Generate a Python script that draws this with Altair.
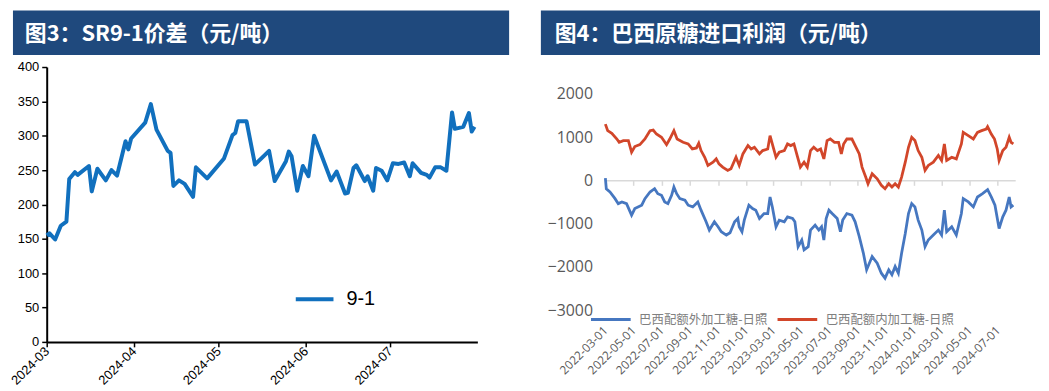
import altair as alt
import pandas as pd

# ---------------- left panel: SR9-1 spread ----------------
left_title = "图3：SR9-1价差（元/吨）"
spread_name = "9-1"
spread_dates = [
    "2024-03-01", "2024-03-02", "2024-03-04", "2024-03-06", "2024-03-08", "2024-03-09",
    "2024-03-11", "2024-03-12", "2024-03-16", "2024-03-17", "2024-03-19", "2024-03-22",
    "2024-03-24", "2024-03-26", "2024-03-29", "2024-03-30", "2024-03-31", "2024-04-05",
    "2024-04-07", "2024-04-09", "2024-04-13", "2024-04-14", "2024-04-15", "2024-04-17",
    "2024-04-19", "2024-04-22", "2024-04-23", "2024-04-27", "2024-05-03", "2024-05-06",
    "2024-05-07", "2024-05-08", "2024-05-11", "2024-05-14", "2024-05-19", "2024-05-21",
    "2024-05-25", "2024-05-26", "2024-05-27", "2024-05-29", "2024-05-31", "2024-06-02",
    "2024-06-04", "2024-06-10", "2024-06-12", "2024-06-15", "2024-06-16", "2024-06-18",
    "2024-06-19", "2024-06-22", "2024-06-23", "2024-06-25", "2024-06-26", "2024-06-28",
    "2024-06-30", "2024-07-02", "2024-07-04", "2024-07-06", "2024-07-08", "2024-07-09",
    "2024-07-12", "2024-07-14", "2024-07-15", "2024-07-17", "2024-07-19", "2024-07-21",
    "2024-07-23", "2024-07-24", "2024-07-27", "2024-07-29", "2024-07-30", "2024-07-31",
]
spread_values = [
    155, 158, 149, 169, 175, 237, 247, 243, 256, 219, 252, 235,
    250, 242, 292, 280, 296, 319, 346, 309, 278, 275, 227, 235,
    230, 211, 254, 238, 267, 301, 304, 321, 321, 258, 278, 234,
    263, 277, 270, 220, 256, 241, 300, 235, 248, 216, 217, 253,
    257, 234, 241, 220, 253, 249, 235, 260, 259, 261, 241, 260,
    246, 243, 239, 254, 254, 249, 334, 310, 313, 333, 306, 313,
]
left_tick_dates = ["2024-03-01", "2024-04-01", "2024-05-01", "2024-06-01", "2024-07-01"]
left_x_domain = ["2024-03-01", "2024-08-01"]
left_y_domain = [0, 400]
left_y_ticks = [0, 50, 100, 150, 200, 250, 300, 350, 400]

# ---------------- right panel: Brazil raw sugar import profit ----------------
right_title = "图4：巴西原糖进口利润（元/吨）"
right_series = ["巴西配额外加工糖-日照", "巴西配额内加工糖-日照"]
out_quota_dates = [
    "2022-03-01", "2022-03-03", "2022-03-11", "2022-03-22", "2022-03-29", "2022-04-06",
    "2022-04-16", "2022-04-27", "2022-05-04", "2022-05-19", "2022-05-26", "2022-06-06",
    "2022-06-16", "2022-06-23", "2022-07-01", "2022-07-08", "2022-07-15", "2022-07-23",
    "2022-07-28", "2022-08-03", "2022-08-10", "2022-08-21", "2022-08-28", "2022-09-07",
    "2022-09-18", "2022-09-25", "2022-10-06", "2022-10-13", "2022-10-24", "2022-11-01",
    "2022-11-08", "2022-11-19", "2022-11-27", "2022-12-07", "2022-12-14", "2022-12-17",
    "2022-12-23", "2022-12-28", "2023-01-07", "2023-01-15", "2023-01-22", "2023-01-30",
    "2023-02-09", "2023-02-17", "2023-02-22", "2023-02-27", "2023-03-07", "2023-03-14",
    "2023-03-25", "2023-04-01", "2023-04-12", "2023-04-17", "2023-04-24", "2023-05-02",
    "2023-05-07", "2023-05-16", "2023-05-21", "2023-05-31", "2023-06-08", "2023-06-14",
    "2023-06-19", "2023-06-24", "2023-06-30", "2023-07-07", "2023-07-18", "2023-07-25",
    "2023-07-30", "2023-08-08", "2023-08-19", "2023-08-26", "2023-09-04", "2023-09-13",
    "2023-09-20", "2023-10-02", "2023-10-13", "2023-10-22", "2023-10-30", "2023-11-07",
    "2023-11-14", "2023-11-21", "2023-11-28", "2023-12-05", "2023-12-13", "2023-12-20",
    "2023-12-27", "2024-01-03", "2024-01-10", "2024-01-18", "2024-01-25", "2024-02-01",
    "2024-02-12", "2024-02-23", "2024-03-01", "2024-03-07", "2024-03-12", "2024-03-23",
    "2024-04-02", "2024-04-13", "2024-04-17", "2024-04-28", "2024-05-09", "2024-05-18",
    "2024-05-29", "2024-06-09", "2024-06-17", "2024-06-25", "2024-07-04", "2024-07-12",
    "2024-07-19", "2024-07-26", "2024-07-30", "2024-08-04",
]
out_quota_values = [
    50, -193, -269, -423, -538, -499,
    -538, -804, -653, -574, -423, -269,
    -193, -308, -345, -499, -538, -345,
    -154, -308, -423, -460, -574, -614,
    -499, -689, -958, -1149, -958, -1073,
    -1188, -1264, -1211, -958, -882, -1073,
    -1188, -919, -574, -653, -689, -882,
    -767, -767, -384, -614, -1073, -919,
    -958, -843, -882, -958, -1533, -1379,
    -1608, -1533, -1149, -1034, -1149, -1073,
    -1379, -882, -689, -767, -882, -1188,
    -919, -767, -804, -958, -1303, -1687,
    -2068, -1762, -1916, -2146, -2261, -2068,
    -2183, -1992, -2146, -1687, -1227, -767,
    -538, -614, -919, -1149, -1533, -1379,
    -1264, -1149, -1264, -689, -1188, -1073,
    -1264, -767, -423, -499, -614, -384,
    -308, -216, -384, -574, -1112, -843,
    -689, -384, -614, -574,
]
in_quota_dates = [
    "2022-03-01", "2022-03-06", "2022-03-15", "2022-03-26", "2022-03-31", "2022-04-09",
    "2022-04-20", "2022-04-27", "2022-05-04", "2022-05-15", "2022-05-26", "2022-06-06",
    "2022-06-13", "2022-06-20", "2022-07-01", "2022-07-12", "2022-07-19", "2022-07-28",
    "2022-08-04", "2022-08-17", "2022-08-28", "2022-09-06", "2022-09-15", "2022-09-20",
    "2022-09-25", "2022-10-03", "2022-10-10", "2022-10-21", "2022-10-28", "2022-11-03",
    "2022-11-11", "2022-11-22", "2022-11-29", "2022-12-10", "2022-12-17", "2022-12-25",
    "2023-01-05", "2023-01-12", "2023-01-19", "2023-01-30", "2023-02-06", "2023-02-17",
    "2023-02-22", "2023-03-01", "2023-03-07", "2023-03-14", "2023-03-25", "2023-04-01",
    "2023-04-08", "2023-04-15", "2023-04-22", "2023-04-29", "2023-05-07", "2023-05-14",
    "2023-05-21", "2023-05-28", "2023-06-05", "2023-06-12", "2023-06-19", "2023-06-26",
    "2023-07-03", "2023-07-12", "2023-07-21", "2023-07-27", "2023-08-01", "2023-08-08",
    "2023-08-19", "2023-08-28", "2023-09-04", "2023-09-10", "2023-09-18", "2023-09-23",
    "2023-10-02", "2023-10-13", "2023-10-22", "2023-10-30", "2023-11-07", "2023-11-14",
    "2023-11-21", "2023-11-28", "2023-12-05", "2023-12-13", "2023-12-20", "2023-12-27",
    "2024-01-03", "2024-01-10", "2024-01-18", "2024-01-25", "2024-02-01", "2024-02-12",
    "2024-02-23", "2024-03-01", "2024-03-07", "2024-03-12", "2024-03-23", "2024-04-02",
    "2024-04-13", "2024-04-17", "2024-04-28", "2024-05-09", "2024-05-18", "2024-05-27",
    "2024-06-06", "2024-06-09", "2024-06-17", "2024-06-24", "2024-06-30", "2024-07-04",
    "2024-07-12", "2024-07-19", "2024-07-26", "2024-07-30", "2024-08-04",
]
in_quota_values = [
    1300, 1149, 1087, 956, 880, 919,
    919, 650, 781, 827, 956, 1149,
    1163, 1071, 995, 827, 956, 1149,
    956, 880, 841, 726, 749, 857,
    689, 535, 345, 420, 496, 381,
    306, 230, 267, 535, 345, 611,
    804, 726, 765, 611, 689, 726,
    1034, 765, 535, 650, 689, 841,
    804, 841, 574, 306, 420, 306,
    689, 765, 689, 726, 496, 919,
    956, 880, 880, 611, 841, 956,
    956, 765, 611, 306, 76, -78,
    152, 37, -115, -193, -78, -154,
    -78, -154, 76, 420, 765, 995,
    919, 689, 535, 230, 345, 420,
    574, 460, 841, 460, 535, 496,
    841, 1110, 1034, 956, 1110, 1149,
    1186, 1241, 1071, 956, 726, 460,
    689, 765, 995, 880, 841,
]
right_tick_dates = [
    "2022-03-01", "2022-05-01", "2022-07-01", "2022-09-01", "2022-11-01",
    "2023-01-01", "2023-03-01", "2023-05-01", "2023-07-01", "2023-09-01",
    "2023-11-01", "2024-01-01", "2024-03-01", "2024-05-01", "2024-07-01",
]
right_x_domain = ["2022-03-01", "2024-08-08"]
right_y_domain = [-3000, 2620]
right_y_ticks = [2000, 1000, 0, -1000, -2000, -3000]

assert len(spread_dates) == len(spread_values)
assert len(out_quota_dates) == len(out_quota_values)
assert len(in_quota_dates) == len(in_quota_values)


def ms(s):
    """UTC epoch milliseconds of a YYYY-MM-DD string."""
    return int(pd.Timestamp(s, tz="UTC").value // 10**6)


HEADER = "#1F497D"
TITLE_FONT = "Noto Sans CJK SC"
PW_L, PH = 434, 277
PW_R = 413

# ---------------- left chart ----------------
left_df = pd.DataFrame({"date": spread_dates, "value": spread_values, "series": spread_name})
left_hdr = pd.DataFrame({"label": [left_title]})

lx = alt.X(
    "date:T",
    scale=alt.Scale(type="utc", domain=[ms(d) for d in left_x_domain]),
    axis=alt.Axis(
        values=[ms(d) for d in left_tick_dates],
        labelExpr="utcFormat(datum.value, '%Y-%m')", labelOverlap=False,
        labelAngle=-45, labelAlign="right", labelBaseline="middle", labelPadding=2,
        labelFontSize=13, labelFont="Liberation Sans", labelColor="black",
        domainColor="black", domainWidth=2, tickColor="black", tickSize=5, tickWidth=1.5,
        grid=False, title=None, orient="bottom",
    ),
)
ly = alt.Y(
    "value:Q",
    scale=alt.Scale(domain=left_y_domain),
    axis=alt.Axis(
        values=left_y_ticks, format="d", labelFontSize=13, labelFont="Liberation Sans",
        labelColor="black", domainColor="black", domainWidth=2, tickColor="black",
        tickSize=5, tickWidth=1.5, labelPadding=3, grid=False, title=None,
    ),
)
left_line = alt.Chart(left_df).mark_line(strokeWidth=4, strokeJoin="round").encode(
    x=lx,
    y=ly,
    color=alt.Color(
        "series:N",
        scale=alt.Scale(domain=[spread_name], range=["#1170BE"]),
        legend=alt.Legend(
            orient="none", legendX=249, legendY=213, title=None, symbolType="stroke",
            symbolSize=1444, symbolStrokeWidth=4, labelFontSize=20, labelFont="Liberation Sans",
            labelColor="black", labelOffset=11, padding=0,
        ),
    ),
)
left_bar = alt.Chart(left_hdr).mark_rect(color=HEADER).encode(
    x=alt.value(-34), x2=alt.value(466), y=alt.value(-57), y2=alt.value(-12)
)
left_text = alt.Chart(left_hdr).mark_text(
    align="left", baseline="middle", color="white", fontSize=22, fontWeight="bold", font=TITLE_FONT
).encode(x=alt.value(-22), y=alt.value(-33), text="label:N")

left = alt.layer(left_bar, left_text, left_line).properties(width=PW_L, height=PH)

# ---------------- right chart ----------------
right_df = pd.concat(
    [
        pd.DataFrame({"date": out_quota_dates, "value": out_quota_values, "series": right_series[0]}),
        pd.DataFrame({"date": in_quota_dates, "value": in_quota_values, "series": right_series[1]}),
    ],
    ignore_index=True,
)
right_hdr = pd.DataFrame({"label": [right_title]})
rx_scale = alt.Scale(type="utc", domain=[ms(d) for d in right_x_domain])
RH = 245
zero_offset = -RH * (0 - right_y_domain[0]) / (right_y_domain[1] - right_y_domain[0])
ry = alt.Y(
    "value:Q",
    scale=alt.Scale(domain=right_y_domain, nice=False),
    axis=alt.Axis(
        values=right_y_ticks, format="d", domain=False, ticks=False, grid=False,
        labelFontSize=16, labelFont="Open Sans", labelColor="#595959", labelPadding=13,
        title=None,
    ),
)
right_lines = alt.Chart(right_df).mark_line(strokeWidth=2.8).encode(
    x=alt.X(
        "date:T",
        scale=rx_scale,
        axis=alt.Axis(
            values=[ms(d) for d in right_tick_dates],
            labelExpr="utcFormat(datum.value, '%Y-%m-%d')", labelOverlap=False,
            labelAngle=-45, labelAlign="right", labelBaseline="middle", domain=False, ticks=False,
            tickSize=0, grid=False, offset=14, labelPadding=4, labelFontSize=12,
            labelFont="Open Sans", labelColor="#595959", title=None, orient="bottom",
        ),
    ),
    y=ry,
    color=alt.Color(
        "series:N",
        scale=alt.Scale(domain=right_series, range=["#4677C0", "#D2462A"]),
        legend=alt.Legend(
            orient="none", legendX=-16, legendY=233, title=None, direction="horizontal",
            symbolType="stroke", symbolSize=1600, symbolStrokeWidth=3, labelFontSize=12.5,
            labelFont=TITLE_FONT, labelColor="#808080", labelOffset=7, columnPadding=3,
            labelLimit=400, padding=0,
        ),
    ),
)
zero_axis = alt.Chart(right_df).mark_line(strokeOpacity=0).encode(
    x=alt.X(
        "date:T",
        scale=rx_scale,
        axis=alt.Axis(
            values=[ms(d) for d in right_tick_dates], labels=False, domainColor="#D9D9D9",
            domainWidth=1.5, tickColor="#D9D9D9", tickSize=5, tickWidth=1.5, grid=False,
            offset=zero_offset, title=None, orient="bottom",
        ),
    ),
    y=ry,
    detail="series:N",
)
right_bar = alt.Chart(right_hdr).mark_rect(color=HEADER).encode(
    x=alt.value(-65), x2=alt.value(438), y=alt.value(-57), y2=alt.value(-12)
)
right_text = alt.Chart(right_hdr).mark_text(
    align="left", baseline="middle", color="white", fontSize=22, fontWeight="bold", font=TITLE_FONT
).encode(x=alt.value(-51), y=alt.value(-33), text="label:N")

right = (
    alt.layer(right_bar, right_text, zero_axis, right_lines)
    .resolve_axis(x="independent")
    .properties(width=PW_R, height=RH)
)

chart = (
    alt.hconcat(left, right, spacing=30)
    .resolve_scale(color="independent")
    .properties(padding=0, background="white")
    .configure_view(stroke="transparent")
)

chart.save("out.html", embed_options={"renderer": "svg", "actions": False})
